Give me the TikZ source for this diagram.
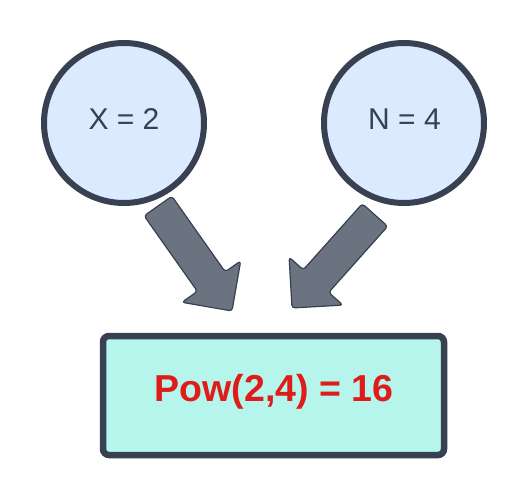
\documentclass[tikz,border=0pt]{standalone}
\usepackage{fontspec}
\setmainfont{Liberation Sans}
\definecolor{ink}{HTML}{374151}
\definecolor{circfill}{HTML}{DBEAFE}
\definecolor{arrfill}{HTML}{6B7280}
\definecolor{boxfill}{HTML}{B5F5EC}
\definecolor{red16}{HTML}{DE1C1A}
\tikzset{
  valcircle/.style={circle, draw=ink, fill=circfill, line width=6pt, minimum size=160pt, inner sep=0pt},
  valtext/.style={text=ink, font=\fontsize{30}{30}\selectfont, anchor=base, inner sep=0pt},
  resbox/.style={draw=ink, fill=boxfill, line width=6.5pt, rounded corners=6pt},
  restext/.style={text=red16, font=\fontsize{37.5}{37.5}\selectfont\bfseries, anchor=base, inner sep=0pt},
  blockarrow/.style={draw=ink, fill=arrfill, line width=1.2pt, rounded corners=3pt, line join=round}
}
\begin{document}
\begin{tikzpicture}[x=1pt,y=-1pt]
\useasboundingbox (0,0) rectangle (528,498);
\node[valcircle] (x) at (124,123) {};
\node[valcircle] (n) at (404,123) {};
\node[valtext] (xt) at (124,129) {X = 2};
\node[valtext] (nt) at (404.5,129) {N = 4};
\filldraw[resbox] (103,336) rectangle (444,455);
\node[restext] (res) at (274,401.5) {Pow(2,4) = 16};
% left block arrow
\path[blockarrow] (144.1,215.8) -- (197.4,291.4) -- (181.9,302.3) -- (232,311) -- (240.7,260.9) -- (225.2,271.8) -- (171.9,196.2) -- cycle;
% right block arrow
\path[blockarrow] (362.3,203.7) -- (303.3,269.8) -- (289.1,257.1) -- (292,308) -- (342.9,305.1) -- (328.7,292.4) -- (387.7,226.3) -- cycle;
\end{tikzpicture}
\end{document}
